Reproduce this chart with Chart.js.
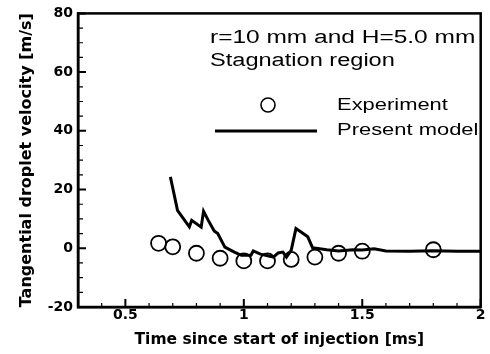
<!DOCTYPE html>
<html>
<head>
<meta charset="utf-8">
<script src="https://cdn.jsdelivr.net/npm/chart.js@4.4.1/dist/chart.umd.min.js"></script>
<style>
  body { margin: 0; background: #fff; }
  #wrap { width: 490px; height: 354px; position: relative; }
</style>
</head>
<body>
<div id="wrap"><canvas id="chart"></canvas></div>
<script>
// experiment (circles)
var expTime = [0.64, 0.70, 0.80, 0.90, 1.00, 1.10, 1.20, 1.30, 1.40, 1.50, 1.80];
var expVel  = [1.7, 0.5, -1.7, -3.4, -4.3, -4.3, -3.8, -3.0, -1.7, -1.0, -0.5];

// present model (line)
var modelTime = [0.69, 0.72, 0.77, 0.78, 0.82, 0.83, 0.85, 0.875, 0.89, 0.92, 0.96, 0.99, 1.03, 1.04, 1.07,
                 1.125, 1.145, 1.165, 1.18, 1.20, 1.22, 1.24, 1.27, 1.29, 1.35, 1.40, 1.46, 1.50, 1.55,
                 1.60, 1.70, 1.80, 1.90, 2.00];
var modelVel  = [24.3, 12.9, 7.3, 9.5, 7.2, 12.6, 9.5, 5.9, 5.0, 0.4, -1.3, -2.4, -2.4, -0.9, -2.0,
                 -3.0, -1.6, -1.3, -3.0, -0.7, 6.7, 5.6, 3.9, 0.2, -0.5, -0.9, -0.5, -0.6, -0.2,
                 -0.9, -1.0, -0.8, -1.0, -1.0];

var xTicks = [0.5, 1, 1.5, 2];
var yTicks = [-20, 0, 20, 40, 60, 80];
var xMinor = [0.4, 0.6, 0.7, 0.8, 0.9, 1.1, 1.2, 1.3, 1.4, 1.6, 1.7, 1.8, 1.9];
var yMinor = [-15, -10, -5, 5, 10, 15, 25, 30, 35, 45, 50, 55, 65, 70, 75];

var noteLines = ['r=10 mm and H=5.0 mm', 'Stagnation region'];

function pts(xs, ys) {
  return xs.map(function (x, i) { return { x: x, y: ys[i] }; });
}

// the scanned lettering is wide, stretch it a bit
function wideText(ctx, txt, x, y, sx) {
  ctx.save();
  ctx.translate(x, y);
  ctx.scale(sx, 1);
  ctx.fillText(txt, 0, 0);
  ctx.restore();
}

// frame, inward ticks, notes and legend
var decor = {
  id: 'decor',
  afterDraw: function (chart) {
    var ctx = chart.ctx, a = chart.chartArea;
    var xs = chart.scales.x, ys = chart.scales.y;
    ctx.save();
    ctx.strokeStyle = '#000';
    ctx.lineWidth = 2.5;
    ctx.strokeRect(a.left, a.top, a.right - a.left, a.bottom - a.top);

    ctx.lineWidth = 2;
    ctx.beginPath();
    xTicks.forEach(function (v) {
      var px = xs.getPixelForValue(v);
      ctx.moveTo(px, a.bottom); ctx.lineTo(px, a.bottom - 8);
    });
    yTicks.forEach(function (v) {
      var py = ys.getPixelForValue(v);
      ctx.moveTo(a.left, py); ctx.lineTo(a.left + 8, py);
    });
    ctx.stroke();
    ctx.lineWidth = 1.2;
    ctx.beginPath();
    xMinor.forEach(function (v) {
      var px = xs.getPixelForValue(v);
      ctx.moveTo(px, a.bottom); ctx.lineTo(px, a.bottom - 4);
    });
    yMinor.forEach(function (v) {
      var py = ys.getPixelForValue(v);
      ctx.moveTo(a.left, py); ctx.lineTo(a.left + 5, py);
    });
    ctx.stroke();

    ctx.fillStyle = '#000';
    ctx.textBaseline = 'middle';
    ctx.textAlign = 'left';
    ctx.font = '18px "Liberation Sans", Arial, sans-serif';
    wideText(ctx, noteLines[0], 210, 38, 1.36);
    wideText(ctx, noteLines[1], 210, 61, 1.31);

    ctx.font = '17px "Liberation Sans", Arial, sans-serif';
    ctx.beginPath();
    ctx.lineWidth = 1.6;
    ctx.arc(268, 105, 7, 0, Math.PI * 2);
    ctx.stroke();
    wideText(ctx, 'Experiment', 337, 105, 1.29);
    ctx.beginPath();
    ctx.lineWidth = 3;
    ctx.moveTo(215, 131); ctx.lineTo(317, 131);
    ctx.stroke();
    wideText(ctx, 'Present model', 337, 130, 1.29);
    ctx.restore();
  }
};

var tickFont = { family: '"DejaVu Sans", sans-serif', size: 14, weight: 'bold' };
var xTitleFont = { family: '"DejaVu Sans", sans-serif', size: 15.5, weight: 'bold' };
var yTitleFont = { family: '"DejaVu Sans", sans-serif', size: 16, weight: 'bold' };

new Chart(document.getElementById('chart'), {
  type: 'scatter',
  data: {
    datasets: [
      {
        label: 'Experiment',
        data: pts(expTime, expVel),
        showLine: false,
        pointStyle: 'circle',
        pointRadius: 7.5,
        pointBorderWidth: 1.8,
        pointBorderColor: '#000',
        pointBackgroundColor: 'rgba(0,0,0,0)'
      },
      {
        label: 'Present model',
        data: pts(modelTime, modelVel),
        showLine: true,
        borderColor: '#000',
        borderWidth: 3,
        pointRadius: 0,
        tension: 0
      }
    ]
  },
  options: {
    responsive: true,
    maintainAspectRatio: false,
    animation: false,
    layout: { padding: { top: 13, right: 4, left: 0, bottom: 0 } },
    plugins: { legend: { display: false }, tooltip: { enabled: false } },
    scales: {
      x: {
        type: 'linear', min: 0.3, max: 2,
        afterBuildTicks: function (s) { s.ticks = xTicks.map(function (v) { return { value: v }; }); },
        afterFit: function (s) { s.height = 47; },
        ticks: { color: '#000', font: tickFont, padding: 0, maxRotation: 0,
                 callback: function (v) { return String(v); } },
        grid: { drawOnChartArea: false, drawTicks: false },
        border: { color: '#000', width: 2.5 },
        title: { display: true, text: 'Time since start of injection [ms]', color: '#000', font: xTitleFont,
                 padding: { top: 0, bottom: 5 } }
      },
      y: {
        type: 'linear', min: -20, max: 80,
        afterBuildTicks: function (s) { s.ticks = yTicks.map(function (v) { return { value: v }; }); },
        afterFit: function (s) { s.width = 78; },
        ticks: { color: '#000', font: tickFont, padding: 5 },
        grid: { drawOnChartArea: false, drawTicks: false },
        border: { color: '#000', width: 2.5 },
        title: { display: true, text: 'Tangential droplet velocity [m/s]', color: '#000', font: yTitleFont,
                 padding: { top: 17, bottom: 0 } }
      }
    }
  },
  plugins: [decor]
});
</script>
</body>
</html>
